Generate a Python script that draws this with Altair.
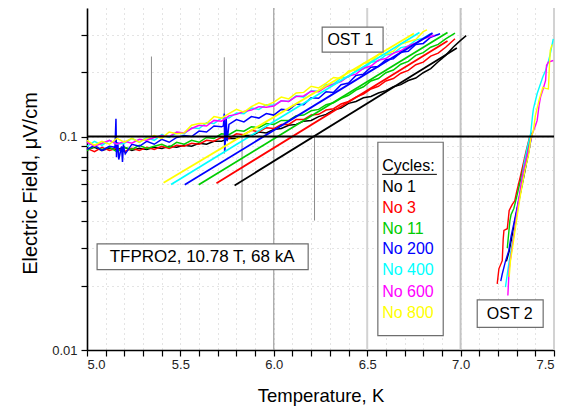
import altair as alt
import pandas as pd

FONT = "Liberation Sans, Arial, Helvetica, sans-serif"

# ---------------- data ----------------
SERIES = ["No 1", "No 3", "No 11", "No 200", "No 400", "No 600", "No 800"]
COLORS = ["#000000", "#ff0000", "#00cc00", "#0000ff", "#00ffff", "#ff00ff", "#ffff00"]

T_GRID = [5.00, 5.04, 5.08, 5.12, 5.16, 5.20, 5.24, 5.28, 5.32, 5.36,
          5.40, 5.44, 5.48, 5.52, 5.56, 5.60, 5.64, 5.68, 5.72, 5.76,
          5.80, 5.84, 5.88, 5.92, 5.96, 6.00, 6.04, 6.08, 6.12, 6.16,
          6.20, 6.24, 6.28, 6.32, 6.36, 6.40, 6.44, 6.48, 6.52, 6.56,
          6.60, 6.64, 6.68, 6.72, 6.76, 6.80, 6.84, 6.88, 6.92, 6.96, 7.00]

E_NO1 = [.087, .089, .086, .088, .087, .089, .086, .088, .087, .089,
         .088, .090, .089, .091, .090, .093, .092, .095, .095, .098,
         .098, .101, .101, .105, .104, .108, .109, .113, .114, .118,
         .119, .124, .127, .133, .136, .143, .146, .152, .154, .160,
         .164, .171, .175, .183, .188, .199, .208, .224, .240, .262, .282]
E_NO3 = [.088, .085, .089, .086, .088, .085, .088, .086, .089, .087,
         .090, .088, .091, .090, .093, .092, .096, .095, .099, .098,
         .103, .102, .107, .105, .110, .109, .114, .114, .120, .120,
         .126, .127, .133, .135, .142, .146, .153, .158, .167, .172,
         .182, .187, .198, .204, .217, .223, .238, .246, .262]
E_NO11 = [.086, .090, .087, .089, .085, .089, .087, .091, .088, .090,
          .092, .089, .094, .092, .096, .094, .099, .098, .103, .102,
          .107, .106, .111, .110, .115, .114, .119, .119, .125, .126,
          .132, .134, .141, .144, .151, .156, .165, .171, .182, .187,
          .199, .205, .218, .225, .240, .247, .262, .270, .287]
E_NO200 = [.087, .091, .086, .090, .088, .086, .092, .090, .095, .092,
           .097, .094, .099, .101, .100, .106, .105, .112, .111, .114,
           .120, .117, .124, .122, .128, .126, .134, .133, .142, .141,
           .152, .151, .162, .161, .175, .178, .193, .196, .211, .213,
           .229, .231, .248, .251, .270, .273, .292]
E_NO400 = [.090, .095, .091, .096, .092, .093, .098, .094, .099, .096,
           .102, .099, .104, .103, .110, .109, .116, .115, .122, .122,
           .129, .128, .136, .134, .141, .140, .147, .146, .155, .153,
           .164, .163, .175, .176, .188, .190, .203, .207, .223, .226,
           .241, .245, .261, .265, .283, .289]
E_NO600 = [.094, .090, .093, .096, .092, .095, .093, .097, .096, .099,
           .101, .100, .105, .104, .109, .113, .112, .119, .118, .125,
           .127, .131, .133, .138, .137, .139, .147, .146, .154, .155,
           .163, .162, .171, .176, .181, .192, .196, .209, .214, .228,
           .232, .246, .252, .266, .274, .287]
E_NO800 = [.096, .091, .095, .092, .098, .094, .098, .094, .098, .101,
           .098, .105, .103, .104, .113, .115, .115, .124, .122, .128,
           .134, .130, .138, .144, .140, .145, .153, .150, .160, .161,
           .172, .169, .178, .189, .187, .203, .205, .220, .224, .242,
           .243, .251, .271, .278, .285, .310]
END_T = [7.03, 6.97, 6.97, 6.89, 6.84, 6.86, 6.82]
END_E = [0.297, 0.287, 0.305, 0.303, 0.303, 0.298, 0.316]

# noise spikes on the No 200 trace
SPIKE_T = [5.150, 5.155, 5.158, 5.165, 5.170, 5.185, 5.190, 5.195, 5.205,
           5.730, 5.735, 5.738, 5.745, 5.750]
SPIKE_E = [.089, .121, .080, .094, .078, .090, .076, .092, .083,
           .112, .128, .085, .123, .095]

# linear fits (start / end)
FIT_SERIES = ["No 1", "No 3", "No 11", "No 200", "No 400", "No 800"]
FIT_T0 = [5.79, 5.693, 5.598, 5.523, 5.45, 5.41]
FIT_E0 = [0.059, 0.0604, 0.0594, 0.0594, 0.0596, 0.0607]
FIT_T1 = [6.98, 6.93, 6.93, 6.85, 6.78, 6.75]
FIT_E1 = [0.26, 0.28, 0.307, 0.305, 0.307, 0.304]

# OST 2 traces
OST2 = {
    "No 1": ([7.245, 7.26, 7.275, 7.29, 7.31, 7.34, 7.37],
             [0.026, 0.029, 0.034, 0.040, 0.049, 0.066, 0.090]),
    "No 3": ([7.196, 7.205, 7.223, 7.228, 7.232, 7.25, 7.26, 7.276, 7.29, 7.30, 7.32, 7.35, 7.37],
             [0.0204, 0.024, 0.0262, 0.033, 0.0363, 0.037, 0.045, 0.048, 0.050, 0.055, 0.065, 0.085, 0.100]),
    "No 11": ([7.25, 7.264, 7.27, 7.285, 7.30, 7.33, 7.36, 7.38],
              [0.030, 0.0404, 0.043, 0.046, 0.052, 0.068, 0.088, 0.104]),
    "No 200": ([7.215, 7.223, 7.24, 7.258, 7.27, 7.29, 7.31, 7.34, 7.37, 7.385],
               [0.021, 0.0227, 0.026, 0.0292, 0.034, 0.041, 0.050, 0.067, 0.090, 0.105]),
    "No 400": ([7.24, 7.26, 7.28, 7.30, 7.32, 7.34, 7.357, 7.375, 7.385, 7.39, 7.41, 7.44, 7.455, 7.47, 7.48, 7.496],
               [0.0197, 0.026, 0.033, 0.042, 0.055, 0.075, 0.089, 0.103, 0.125, 0.135, 0.159, 0.190, 0.204, 0.225, 0.244, 0.287]),
    "No 600": ([7.253, 7.26, 7.275, 7.29, 7.31, 7.33, 7.35, 7.37, 7.384, 7.40, 7.41, 7.42, 7.428, 7.44, 7.455, 7.46, 7.47, 7.496],
               [0.018, 0.024, 0.030, 0.037, 0.050, 0.065, 0.078, 0.092, 0.103, 0.112, 0.119, 0.140, 0.153, 0.165, 0.183, 0.215, 0.223, 0.227]),
    "No 800": ([7.26, 7.267, 7.28, 7.30, 7.32, 7.345, 7.365, 7.375, 7.39, 7.40, 7.42, 7.44, 7.455, 7.47, 7.475, 7.48, 7.49],
               [0.022, 0.0262, 0.031, 0.041, 0.053, 0.070, 0.083, 0.097, 0.107, 0.125, 0.148, 0.170, 0.168, 0.167, 0.210, 0.253, 0.270]),
}

# reference lines
FULL_T = [6.0, 6.5, 7.0, 7.5]
FULL_COLOR = ["#8c8c8c", "#d2d2d2", "#c4c4c4", "#d2d2d2"]
FULL_WIDTH = [1.0, 2.0, 2.0, 2.0]
SHORT_T = [5.345, 5.735, 5.83, 6.218]
SHORT_E0 = [0.1, 0.083, 0.0404, 0.0404]
SHORT_E1 = [0.237, 0.235, 0.1, 0.1]
REF_E = [0.1]

# annotations
BOX_T0 = [6.259, 5.054, 7.089, 6.557]
BOX_T1 = [6.585, 6.184, 7.442, 6.907]
BOX_E0 = [0.2485, 0.0238, 0.01276, 0.01167]
BOX_E1 = [0.3253, 0.0314, 0.01716, 0.0940]
LABELS = ["OST 1", "TFPRO2, 10.78 T, 68 kA", "OST 2"]
LABEL_T = [6.410, 5.616, 7.263]
LABEL_E = [0.267, 0.02574, 0.01397]
LABEL_SIZE = [16, 17, 16]
LEG_TEXT = ["Cycles:"] + SERIES
LEG_COLOR = ["#000000"] + COLORS
LEG_T = 6.58
LEG_E = [0.0688, 0.0552, 0.0440, 0.0351, 0.0281, 0.0224, 0.0178, 0.01417]
UNDERLINE_T = [6.58, 6.873]
UNDERLINE_E = 0.0665

X_TICKS = [5.0, 5.1, 5.2, 5.3, 5.4, 5.5, 5.6, 5.7, 5.8, 5.9, 6.0, 6.1, 6.2,
           6.3, 6.4, 6.5, 6.6, 6.7, 6.8, 6.9, 7.0, 7.1, 7.2, 7.3, 7.4, 7.5]
Y_TICKS = [0.01, 0.02, 0.03, 0.04, 0.05, 0.06, 0.07, 0.08, 0.09, 0.1, 0.2, 0.3]

# ---------------- frames ----------------
E_ALL = [E_NO1, E_NO3, E_NO11, E_NO200, E_NO400, E_NO600, E_NO800]
rows = []
for s, es, te, ee in zip(SERIES, E_ALL, END_T, END_E):
    pts = list(zip(T_GRID, es)) + [(te, ee)]
    if s == "No 200":
        pts = sorted(pts + list(zip(SPIKE_T, SPIKE_E)))
    for t, e in pts:
        rows.append({"s": s, "T": t, "E": e})
df1 = pd.DataFrame(rows)

rows = []
for s in SERIES:
    ts, es = OST2[s]
    for t, e in zip(ts, es):
        rows.append({"s": s, "T": t, "E": e})
df2 = pd.DataFrame(rows)

rows = []
for s, a, b, c, d in zip(FIT_SERIES, FIT_T0, FIT_E0, FIT_T1, FIT_E1):
    rows.append({"s": s, "T": a, "E": b})
    rows.append({"s": s, "T": c, "E": d})
dfit = pd.DataFrame(rows)

dfull = pd.DataFrame({"T": FULL_T, "c": FULL_COLOR, "w": FULL_WIDTH})
dshort = pd.DataFrame({"T": SHORT_T, "E": SHORT_E0, "E2": SHORT_E1})
dref = pd.DataFrame({"E": REF_E})
dbox = pd.DataFrame({"T": BOX_T0, "T2": BOX_T1, "E": BOX_E0, "E2": BOX_E1})
dlab = pd.DataFrame({"T": LABEL_T, "E": LABEL_E, "txt": LABELS, "sz": LABEL_SIZE})
dleg = pd.DataFrame({"T": [LEG_T] * len(LEG_TEXT), "E": LEG_E, "txt": LEG_TEXT, "c": LEG_COLOR})
dul = pd.DataFrame({"T": [UNDERLINE_T[0]], "T2": [UNDERLINE_T[1]], "E": [UNDERLINE_E]})

# ---------------- scales / axes ----------------
xscale = alt.Scale(domain=[5.0, 7.5], nice=False, zero=False)
yscale = alt.Scale(type="log", domain=[0.01, 0.4], nice=False)

x_axis = alt.Axis(
    values=X_TICKS,
    labelExpr="abs(datum.value*2 - round(datum.value*2)) < 0.001 ? format(datum.value, '.1f') : ''",
    title="Temperature, K", titleFont=FONT, titleFontSize=18.5, titleFontWeight="normal",
    titleColor="#000000", titleBaseline="alphabetic", titleY=51, titleX=233.5, titleAlign="center",
    labelFont=FONT, labelFontSize=13, labelColor="#222222", labelPadding=2,
    tickSize=6, tickColor="#000000", tickWidth=1.2,
    domainColor="#000000", domainWidth=1.6,
    grid=True, gridColor="#c8c8c8", gridDash=[1, 4], gridWidth=1,
)
y_axis = alt.Axis(
    values=Y_TICKS,
    labelExpr="abs(datum.value-0.1) < 1e-6 ? '0.1' : (abs(datum.value-0.01) < 1e-6 ? '0.01' : '')",
    title="Electric Field, \u03bcV/cm", titleFont=FONT, titleFontSize=20, titleFontWeight="normal",
    titleColor="#000000", titleAngle=270, titleBaseline="alphabetic", titleX=-51, titleY=175,
    titleAlign="center",
    labelFont=FONT, labelFontSize=13, labelColor="#222222", labelPadding=4,
    tickSize=6, tickColor="#000000", tickWidth=1.2,
    domainColor="#000000", domainWidth=1.6,
    grid=True, gridColor="#c8c8c8", gridDash=[1, 4], gridWidth=1,
)


def X(f):
    return alt.X(f, scale=xscale, axis=x_axis)


def Y(f):
    return alt.Y(f, scale=yscale, axis=y_axis)


color_enc = alt.Color("s:N", scale=alt.Scale(domain=SERIES, range=COLORS), legend=None)

full_lines = alt.Chart(dfull).mark_rule().encode(
    x=X("T:Q"),
    color=alt.Color("c:N", scale=None),
    strokeWidth=alt.StrokeWidth("w:Q", scale=None),
)
short_lines = alt.Chart(dshort).mark_rule(color="#8c8c8c", strokeWidth=1).encode(
    x=X("T:Q"), y=Y("E:Q"), y2="E2:Q"
)
ost1 = alt.Chart(df1).mark_line(strokeWidth=1.5).encode(
    x=X("T:Q"), y=Y("E:Q"), color=color_enc, detail="s:N"
)
fits = alt.Chart(dfit).mark_line(strokeWidth=1.8).encode(
    x=X("T:Q"), y=Y("E:Q"), color=color_enc, detail="s:N"
)
ost2 = alt.Chart(df2).mark_line(strokeWidth=1.4).encode(
    x=X("T:Q"), y=Y("E:Q"), color=color_enc, detail="s:N"
)
ref = alt.Chart(dref).mark_rule(color="#000000", strokeWidth=2).encode(y=Y("E:Q"))
boxes = alt.Chart(dbox).mark_rect(fill="#ffffff", stroke="#6e6e6e", strokeWidth=1.2).encode(
    x=X("T:Q"), x2="T2:Q", y=Y("E:Q"), y2="E2:Q"
)
labels = alt.Chart(dlab).mark_text(font=FONT, align="center", baseline="alphabetic", color="#000000").encode(
    x=X("T:Q"), y=Y("E:Q"), text="txt:N", size=alt.Size("sz:Q", scale=None)
)
legend_text = alt.Chart(dleg).mark_text(font=FONT, fontSize=16, align="left", baseline="alphabetic").encode(
    x=X("T:Q"), y=Y("E:Q"), text="txt:N", color=alt.Color("c:N", scale=None)
)
underline = alt.Chart(dul).mark_rule(color="#000000", strokeWidth=1).encode(
    x=X("T:Q"), x2="T2:Q", y=Y("E:Q")
)

chart = alt.layer(
    full_lines, short_lines, ost1, fits, ost2, ref, boxes, labels, legend_text, underline
).properties(
    width=467, height=342,
    autosize=alt.AutoSizeParams(type="none"),
    padding={"left": 87, "top": 8, "right": 22, "bottom": 56},
).configure_view(stroke=None)

chart.save("out.html", embed_options={"renderer": "svg", "actions": False})
